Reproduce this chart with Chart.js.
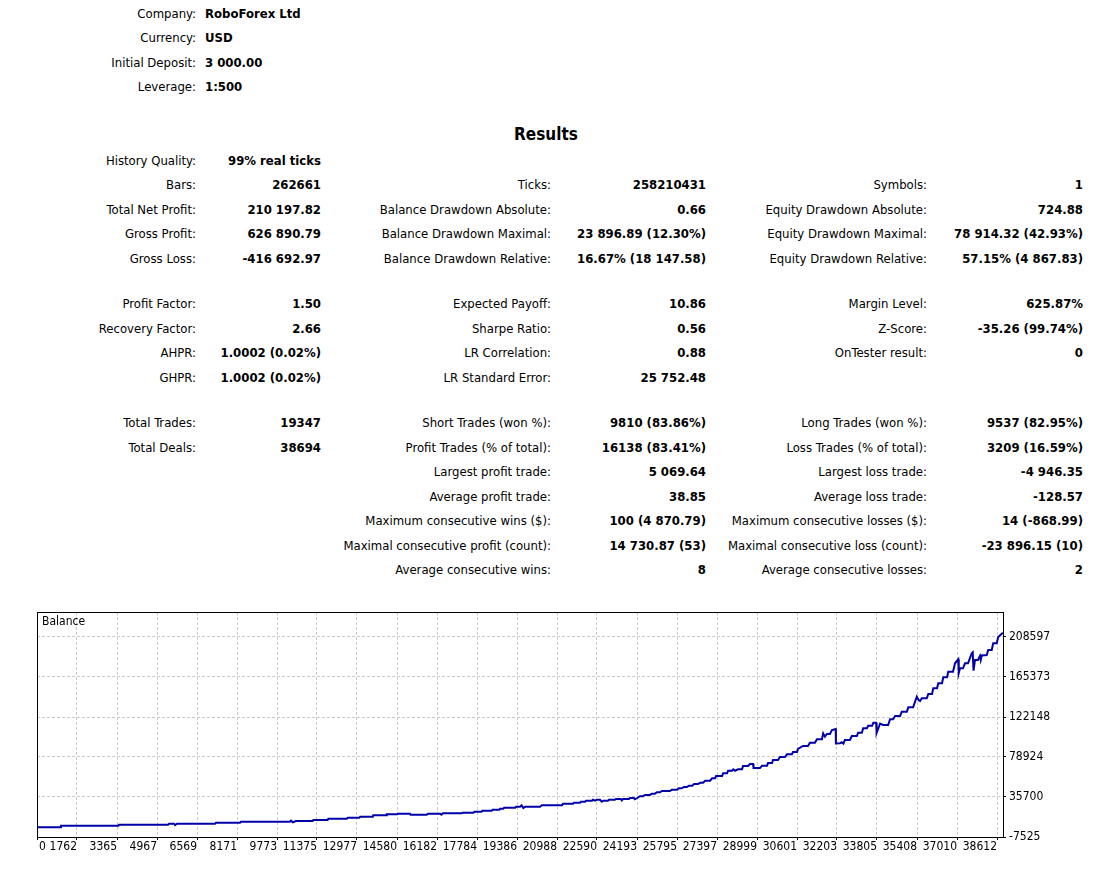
<!DOCTYPE html>
<html>
<head>
<meta charset="utf-8">
<title>Strategy Tester Report</title>
<script src="https://cdn.jsdelivr.net/npm/chart.js@4/dist/chart.umd.min.js"></script>
<style>
  body { margin: 0; width: 1114px; height: 890px; background: #fff; color: #000;
         font-family: 'DejaVu Sans Condensed', 'DejaVu Sans', sans-serif; font-size: 13px; position: relative; overflow: hidden; }
  .row { position: absolute; left: 0; width: 1114px; height: 20px; line-height: 20px; }
  .row span { position: absolute; white-space: nowrap; }
  .v0 { left: 205px; font-weight: bold; }
  .l1 { right: 918px; }
  .v1 { right: 793px; font-weight: bold; }
  .l2 { right: 563px; }
  .v2 { right: 408px; font-weight: bold; }
  .l3 { right: 187px; }
  .v3 { right: 31px; font-weight: bold; }
  .title { position: absolute; left: 0; width: 1092px; text-align: center; top: 124px; font-size: 17px; font-weight: bold; }
  #chartBox { position: absolute; left: 0; top: 600px; width: 1114px; height: 270px; }
</style>
</head>
<body>

<div class="row" style="top:4px"><span class="l1">Company:</span><span class="v0">RoboForex Ltd</span></div>
<div class="row" style="top:28px"><span class="l1">Currency:</span><span class="v0">USD</span></div>
<div class="row" style="top:53px"><span class="l1">Initial Deposit:</span><span class="v0">3 000.00</span></div>
<div class="row" style="top:77px"><span class="l1">Leverage:</span><span class="v0">1:500</span></div>

<div class="title">Results</div>

<div class="row" style="top:151px"><span class="l1">History Quality:</span><span class="v1">99% real ticks</span></div>
<div class="row" style="top:175px"><span class="l1">Bars:</span><span class="v1">262661</span>
  <span class="l2">Ticks:</span><span class="v2">258210431</span>
  <span class="l3">Symbols:</span><span class="v3">1</span></div>
<div class="row" style="top:200px"><span class="l1">Total Net Profit:</span><span class="v1">210 197.82</span>
  <span class="l2">Balance Drawdown Absolute:</span><span class="v2">0.66</span>
  <span class="l3">Equity Drawdown Absolute:</span><span class="v3">724.88</span></div>
<div class="row" style="top:224px"><span class="l1">Gross Profit:</span><span class="v1">626 890.79</span>
  <span class="l2">Balance Drawdown Maximal:</span><span class="v2">23 896.89 (12.30%)</span>
  <span class="l3">Equity Drawdown Maximal:</span><span class="v3">78 914.32 (42.93%)</span></div>
<div class="row" style="top:249px"><span class="l1">Gross Loss:</span><span class="v1">-416 692.97</span>
  <span class="l2">Balance Drawdown Relative:</span><span class="v2">16.67% (18 147.58)</span>
  <span class="l3">Equity Drawdown Relative:</span><span class="v3">57.15% (4 867.83)</span></div>

<div class="row" style="top:294px"><span class="l1">Profit Factor:</span><span class="v1">1.50</span>
  <span class="l2">Expected Payoff:</span><span class="v2">10.86</span>
  <span class="l3">Margin Level:</span><span class="v3">625.87%</span></div>
<div class="row" style="top:319px"><span class="l1">Recovery Factor:</span><span class="v1">2.66</span>
  <span class="l2">Sharpe Ratio:</span><span class="v2">0.56</span>
  <span class="l3">Z-Score:</span><span class="v3">-35.26 (99.74%)</span></div>
<div class="row" style="top:343px"><span class="l1">AHPR:</span><span class="v1">1.0002 (0.02%)</span>
  <span class="l2">LR Correlation:</span><span class="v2">0.88</span>
  <span class="l3">OnTester result:</span><span class="v3">0</span></div>
<div class="row" style="top:368px"><span class="l1">GHPR:</span><span class="v1">1.0002 (0.02%)</span>
  <span class="l2">LR Standard Error:</span><span class="v2">25 752.48</span></div>

<div class="row" style="top:413px"><span class="l1">Total Trades:</span><span class="v1">19347</span>
  <span class="l2">Short Trades (won %):</span><span class="v2">9810 (83.86%)</span>
  <span class="l3">Long Trades (won %):</span><span class="v3">9537 (82.95%)</span></div>
<div class="row" style="top:438px"><span class="l1">Total Deals:</span><span class="v1">38694</span>
  <span class="l2">Profit Trades (% of total):</span><span class="v2">16138 (83.41%)</span>
  <span class="l3">Loss Trades (% of total):</span><span class="v3">3209 (16.59%)</span></div>
<div class="row" style="top:462px">
  <span class="l2">Largest profit trade:</span><span class="v2">5 069.64</span>
  <span class="l3">Largest loss trade:</span><span class="v3">-4 946.35</span></div>
<div class="row" style="top:487px">
  <span class="l2">Average profit trade:</span><span class="v2">38.85</span>
  <span class="l3">Average loss trade:</span><span class="v3">-128.57</span></div>
<div class="row" style="top:511px">
  <span class="l2">Maximum consecutive wins ($):</span><span class="v2">100 (4 870.79)</span>
  <span class="l3">Maximum consecutive losses ($):</span><span class="v3">14 (-868.99)</span></div>
<div class="row" style="top:536px">
  <span class="l2">Maximal consecutive profit (count):</span><span class="v2">14 730.87 (53)</span>
  <span class="l3">Maximal consecutive loss (count):</span><span class="v3">-23 896.15 (10)</span></div>
<div class="row" style="top:560px">
  <span class="l2">Average consecutive wins:</span><span class="v2">8</span>
  <span class="l3">Average consecutive losses:</span><span class="v3">2</span></div>

<div id="chartBox"><canvas id="balanceChart" width="1114" height="270"></canvas></div>

<script>
// Balance curve: deal number and account balance
const deals = [
  0, 1110, 1120, 3420, 3450, 5410, 5450, 5650, 5690, 5770,
  7290, 7330, 8290, 8330, 10290, 10330, 10410, 10530, 11200, 11230,
  11800, 11830, 12570, 12610, 13070, 13100, 13610, 13630, 14140, 14170,
  14580, 14620, 15100, 15120, 15770, 15820, 16300, 16360, 16420, 17170,
  17210, 17640, 17680, 17970, 18000, 18370, 18410, 18680, 18710, 18840,
  18870, 19310, 19350, 19510, 19570, 19640, 19710, 20310, 20380, 21190,
  21230, 21630, 21670, 21910, 21950, 22110, 22150, 22390, 22430, 22510,
  22600, 22710, 22780, 22840, 23030, 23070, 23310, 23350, 23550, 23580,
  23640, 23870, 23910, 24070, 24110, 24200, 24310, 24430, 24510, 24710,
  24790, 24910, 24990, 25110, 25190, 25510, 25590, 25800, 25870, 25990,
  26070, 26190, 26270, 26400, 26480, 26640, 26720, 26840, 26920, 27120,
  27200, 27320, 27360, 27600, 27640, 27800, 27840, 28000, 28050, 28120,
  28240, 28400, 28440, 28640, 28720, 28840, 28860, 29120, 29200, 29400,
  29440, 29600, 29640, 29840, 29920, 30120, 30200, 30400, 30440, 30600,
  30640, 30840, 31040, 31120, 31320, 31400, 31600, 31650, 31720, 31800,
  31920, 32000, 32150, 32160, 32320, 32390, 32460, 32520, 32720, 32800,
  33000, 33050, 33200, 33250, 33400, 33450, 33610, 33660, 33770, 33790,
  33850, 33930, 34050, 34250, 34330, 34450, 34530, 34730, 34800, 35000,
  35060, 35250, 35330, 35400, 35470, 35530, 35600, 35800, 35860, 36010,
  36060, 36210, 36260, 36410, 36460, 36610, 36660, 36850, 36930, 37060,
  37080, 37130, 37250, 37330, 37450, 37600, 37640, 37670, 37730, 37850,
  37930, 37960, 38000, 38200, 38260, 38400, 38460, 38600, 38660, 38850
];
const balance = [
  3000, 3000, 4700, 4700, 5800, 5800, 6800, 6800, 5400, 6800,
  6800, 7900, 7900, 9000, 9000, 10100, 8400, 9800, 9800, 10800,
  10800, 12300, 12300, 13300, 13300, 14400, 14400, 15900, 15900, 17000,
  17000, 17700, 17700, 16600, 16600, 17700, 17700, 16600, 18100, 18100,
  18700, 18700, 19800, 19800, 20900, 20900, 22000, 22000, 23100, 23100,
  24100, 24100, 25200, 25200, 26700, 23800, 25200, 25200, 26700, 26700,
  28500, 28500, 29500, 29500, 30600, 30600, 31700, 31700, 32800, 31700,
  32800, 32800, 30600, 31700, 31700, 32800, 32800, 33500, 33500, 32100,
  33500, 33500, 34600, 34600, 33200, 34600, 36500, 36500, 37900, 37900,
  39300, 39300, 40800, 40800, 42200, 42200, 43600, 43600, 45100, 45100,
  46500, 46500, 47900, 47900, 49700, 49700, 51200, 51200, 53300, 53300,
  55900, 55900, 58400, 58400, 61300, 61300, 64100, 64100, 65600, 64100,
  65600, 65600, 69200, 69200, 71400, 71400, 67000, 67000, 69500, 69500,
  72400, 72400, 75700, 75700, 78900, 78900, 81800, 81800, 84300, 84300,
  87600, 90800, 90800, 94400, 94400, 98100, 98100, 104500, 100900, 103800,
  103800, 108100, 109200, 93500, 93700, 94800, 93300, 97300, 97300, 101600,
  101600, 105200, 105200, 109900, 109900, 112700, 112700, 116000, 116000, 104900,
  109200, 115100, 113500, 113500, 119700, 119700, 123200, 123200, 127900, 127900,
  132600, 132600, 138700, 144100, 140500, 139400, 142400, 142400, 147000, 147000,
  153200, 153200, 158600, 158600, 165000, 165000, 171100, 171100, 180200, 184500,
  169700, 174800, 174800, 180200, 180200, 191000, 192100, 172200, 183700, 183700,
  188100, 183700, 188600, 189100, 194500, 194500, 201800, 201800, 208600, 213200
];

// Axis labels as printed by the tester
const xTickValues = [0, 1762, 3365, 4967, 6569, 8171, 9773, 11375, 12977, 14580, 16182, 17784,
  19386, 20988, 22590, 24193, 25795, 27397, 28999, 30601, 32203, 33805, 35408, 37010, 38612];
const yTickValues = [-7525, 35700, 78924, 122148, 165373, 208597];

const axisFont = "12px 'DejaVu Sans Condensed', 'DejaVu Sans', sans-serif";

// frame, the "Balance" caption and the x labels (first one sits right of its tick)
const framePlugin = {
  id: 'frame',
  afterDraw(chart) {
    const ctx = chart.ctx;
    const area = chart.chartArea;
    const xScale = chart.scales.x;
    ctx.save();
    ctx.strokeStyle = '#000';
    ctx.lineWidth = 1;
    ctx.strokeRect(area.left + 0.5, area.top + 0.5, area.right - area.left, area.bottom - area.top);

    ctx.font = axisFont;
    ctx.fillStyle = '#000';
    ctx.textBaseline = 'middle';
    ctx.textAlign = 'left';
    ctx.fillText('Balance', area.left + 5, area.top + 10);

    xScale.ticks.forEach(function (tick, i) {
      const px = xScale.getPixelForValue(tick.value);
      ctx.textAlign = i === 0 ? 'left' : 'right';
      ctx.fillText(String(xTickValues[i]), i === 0 ? px + 2 : px, area.bottom + 10);
    });
    ctx.restore();
  }
};

const points = deals.map(function (d, i) { return { x: d, y: balance[i] }; });

new Chart(document.getElementById('balanceChart'), {
  type: 'line',
  data: {
    datasets: [{
      label: 'Balance',
      data: points,
      borderColor: '#0000aa',
      borderWidth: 2,
      pointRadius: 0,
      tension: 0,
      fill: false
    }]
  },
  options: {
    responsive: false,
    animation: false,
    devicePixelRatio: 1,
    layout: { padding: { left: 37, top: 12, right: 0, bottom: 0 } },
    plugins: {
      legend: { display: false },
      tooltip: { enabled: false }
    },
    scales: {
      x: {
        type: 'linear',
        min: 160,
        max: 38852,
        afterBuildTicks: function (scale) {
          scale.ticks = xTickValues.map(v => ({ value: Math.max(v, scale.min) }));
        },
        afterFit: function (scale) { scale.height = 33; },
        ticks: { display: false, autoSkip: false },
        grid: { color: '#c8c8c8', tickColor: '#000', tickLength: 3 },
        border: { display: false, dash: [3, 2] }
      },
      y: {
        type: 'linear',
        position: 'right',
        min: -7525,
        max: 235612,
        afterBuildTicks: function (scale) {
          scale.ticks = yTickValues.map(v => ({ value: v }));
        },
        afterFit: function (scale) { scale.width = 111; },
        ticks: {
          autoSkip: false,
          padding: 3,
          color: '#000',
          font: { family: "'DejaVu Sans Condensed', 'DejaVu Sans', sans-serif", size: 12 },
          callback: v => String(v)
        },
        grid: { color: '#c8c8c8', tickColor: '#000', tickLength: 3 },
        border: { display: false, dash: [3, 2] }
      }
    }
  },
  plugins: [framePlugin]
});
</script>
</body>
</html>
